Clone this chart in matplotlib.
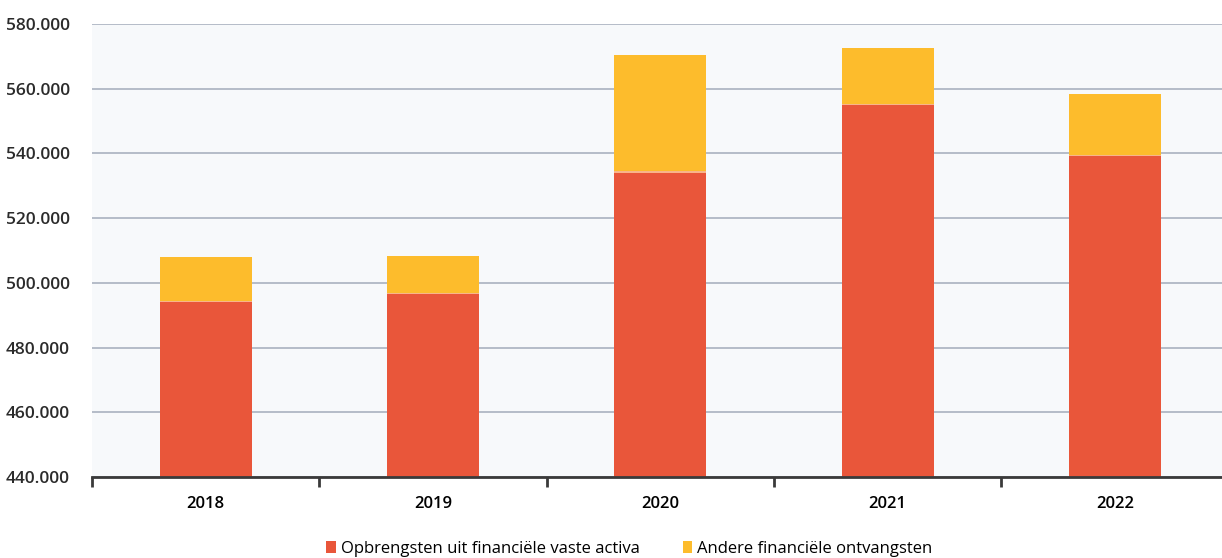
import matplotlib.pyplot as plt
from matplotlib.ticker import FuncFormatter

years = ['2018', '2019', '2020', '2021', '2022']
opbrengsten = [494.2, 496.8, 534.2, 555.0, 539.3]   # x1000
andere = [13.9, 11.5, 36.1, 17.6, 19.1]
totaal = [a + b for a, b in zip(opbrengsten, andere)]

red = '#E9563A'
yellow = '#FDBC2C'

plt.rcParams['font.family'] = ['Open Sans', 'DejaVu Sans']

fig = plt.figure(figsize=(12.22, 5.58), dpi=100)
ax = fig.add_axes([0.0753, 0.1452, 0.93, 0.812])

x = range(len(years))
ax.bar(x, opbrengsten, width=0.405, color=red, zorder=3,
       label='Opbrengsten uit financiële vaste activa')
ax.bar(x, andere, bottom=opbrengsten, width=0.405, color=yellow, zorder=3,
       label='Andere financiële ontvangsten')
# thin light seam between the two segments
ax.bar(x, 0.35, bottom=[v - 0.15 for v in opbrengsten], width=0.405,
       color='#F8B58A', zorder=4)

ax.set_ylim(440, 580)
ax.set_yticks(range(440, 581, 20))
ax.yaxis.set_major_formatter(FuncFormatter(lambda v, p: f'{int(v)}.000'))
ax.set_xlim(-0.5, 4.5)
ax.set_xticks(x)
ax.set_xticklabels(years)
ax.set_xticks([i + 0.5 for i in range(-1, 5)], minor=True)

ax.grid(axis='y', color='#A9B2C0', linewidth=1.2, zorder=0)
ax.set_facecolor('#F7F9FB')
for s in ['top', 'right', 'left']:
    ax.spines[s].set_visible(False)
ax.spines['bottom'].set_color('#3A3A3A')
ax.spines['bottom'].set_linewidth(2)
ax.spines['bottom'].set_zorder(5)

ax.tick_params(axis='y', length=0, pad=16, labelsize=12.5, labelcolor='#2B2B2B')
ax.tick_params(axis='x', which='major', length=0, pad=14, labelsize=12)
ax.tick_params(axis='x', which='minor', length=7, width=2, color='#3A3A3A',
               direction='out')
for lbl in ax.get_yticklabels() + ax.get_xticklabels():
    lbl.set_fontweight('semibold')

handles, labels = ax.get_legend_handles_labels()
fig.legend(handles[:2], labels[:2], loc='lower center', ncol=2,
           bbox_to_anchor=(0.515, -0.025), frameon=False, fontsize=12,
           handlelength=0.55, handleheight=0.75, handletextpad=0.3,
           columnspacing=2.6)

fig.savefig('out.png', dpi=100, facecolor='white')
